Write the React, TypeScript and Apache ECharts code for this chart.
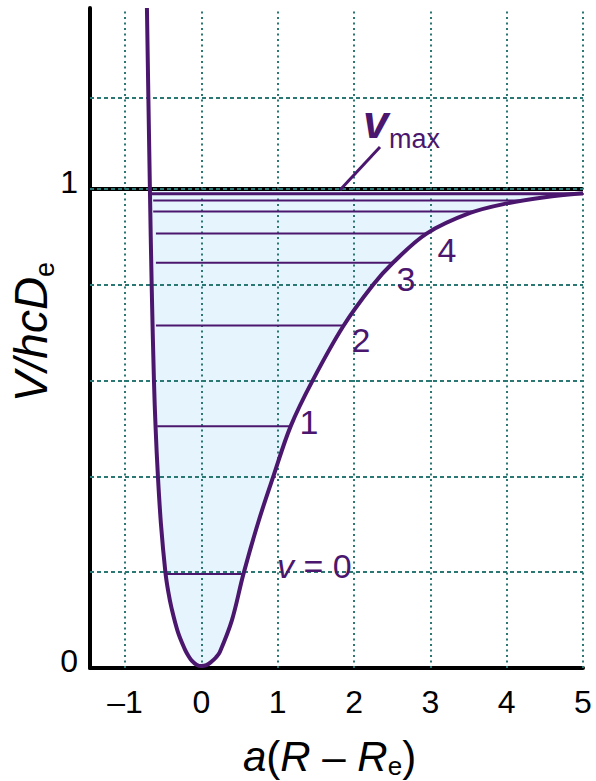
import React, { useEffect, useRef } from 'react';
import * as echarts from 'echarts';

// Potential curve V/hcDe against a(R - Re)
const curveX = [-0.714, -0.695, -0.675, -0.652, -0.622, -0.6, -0.57, -0.53, -0.472, -0.435, -0.39, -0.31, -0.22, -0.17, -0.13, -0.065, 0.0,
  0.065, 0.13, 0.19, 0.24, 0.4, 0.55, 0.75, 0.94, 1.17, 1.46, 1.86, 2.25, 2.51, 2.95, 3.52, 4.0, 4.5, 5.0];
const curveY = [1.378, 1.19, 1.0, 0.8, 0.6, 0.5, 0.4, 0.3, 0.2, 0.16, 0.124, 0.076, 0.04, 0.025, 0.016, 0.007, 0.004,
  0.006, 0.013, 0.022, 0.033, 0.1, 0.196, 0.307, 0.399, 0.505, 0.601, 0.714, 0.8, 0.846, 0.907, 0.95, 0.97, 0.983, 0.991];

// Vibrational levels
const levelEnergy = [0.196, 0.505, 0.715, 0.846, 0.907, 0.953, 0.976, 0.99];
const levelLeft = [-0.456, -0.579, -0.596, -0.596, -0.596, -0.632, -0.632, -0.675];
const levelRight = [0.55, 1.17, 1.86, 2.51, 2.95, 3.58, 4.23, 5.0];
const levelLabels = ['1', '2', '3', '4'];

// Axes
const xTicks = [-1, 0, 1, 2, 3, 4, 5];
const yGridValues = [0.2, 0.4, 0.6, 0.8, 1, 1.19, 1.378];
const yTickLabels = [0, 1];
const X_MIN = -1.46, X_MAX = 5, Y_MIN = 0, Y_MAX = 1.378;
const DISSOCIATION = 1;

const FF = '"Liberation Sans", Arial, sans-serif';
const PURPLE = '#4b176e';
const FILL = '#e6f5fd';
const GRID = '#2a7773';

export default function App() {
  const ref = useRef<HTMLDivElement>(null);
  useEffect(() => {
    document.body.style.margin = '0';
    const chart = echarts.init(ref.current!, null, { renderer: 'svg' });
    const ctx = document.createElement('canvas').getContext('2d')!;
    const tw = (t: string, size: number, italic = false) => {
      ctx.font = `${italic ? 'italic ' : ''}${size}px ${FF}`;
      return ctx.measureText(t).width;
    };
    type Piece = { t: string; size: number; italic?: boolean; dy?: number };
    const row = (pieces: Piece[], x0: number, base: number) => {
      let x = x0;
      return pieces.map((p) => {
        const el = {
          type: 'text', x, y: base + (p.dy || 0) - 0.35 * p.size,
          style: { text: p.t, fontSize: p.size, fontStyle: p.italic ? 'italic' : 'normal', fontFamily: FF, fill: '#000', align: 'left', verticalAlign: 'middle' },
        };
        x += tw(p.t, p.size, p.italic);
        return el;
      });
    };
    const xTitle: Piece[] = [
      { t: 'a', size: 42, italic: true }, { t: '(', size: 42 }, { t: 'R', size: 42, italic: true },
      { t: ' – ', size: 42 }, { t: 'R', size: 42, italic: true }, { t: 'e', size: 26, dy: 4 }, { t: ')', size: 42 },
    ];
    const yTitle: Piece[] = [{ t: 'V/hcD', size: 46, italic: true }, { t: 'e', size: 27, dy: 7 }];
    const yLen = tw('V/hcD', 46, true) + tw('e', 27);

    const curve = curveX.map((x, i) => [x, curveY[i]]);
    const fillPts = curve.filter((p) => p[1] <= DISSOCIATION + 1e-6);

    const labelPos = [[309, 422], [361, 340], [406, 279], [447, 250]];

    const option: any = {
      animation: false,
      grid: { left: 90, right: 13, top: 8, bottom: 113, containLabel: false, outerBoundsMode: 'none' },
      xAxis: {
        type: 'value', min: X_MIN, max: X_MAX,
        axisLine: { onZero: false, lineStyle: { color: '#000', width: 4 } },
        axisTick: { show: false }, splitLine: { show: false },
        axisLabel: {
          showMinLabel: false, fontSize: 32, fontFamily: FF, color: '#000', margin: 18,
          formatter: (v: number) => (xTicks.some((t) => Math.abs(t - v) < 1e-6) ? (v < 0 ? '–' + Math.abs(v) : String(Math.round(v))) : ''),
        },
      },
      yAxis: {
        type: 'value', min: Y_MIN, max: Y_MAX, interval: 0.2,
        axisLine: { onZero: false, lineStyle: { color: '#000', width: 4 } },
        axisTick: { show: false }, splitLine: { show: false },
        axisLabel: {
          showMaxLabel: false, fontSize: 32, fontFamily: FF, color: '#000', margin: 12,
          verticalAlign: 'bottom', lineHeight: 14,
          formatter: (v: number) => { const m = yTickLabels.find((t) => Math.abs(t - v) < 1e-6); return m === undefined ? '' : String(m); },
        },
      },
      series: [
        {
          type: 'custom', z: 1, silent: true, data: [[0, 0]],
          renderItem: (_p: any, api: any) => ({
            type: 'polygon', shape: { points: fillPts.map((p) => api.coord(p)) }, style: { fill: FILL },
          }),
        },
        {
          type: 'line', data: [], z: 2,
          markLine: { z: 2, silent: true, symbol: ['none', 'none'], label: { show: false }, lineStyle: { color: '#000', width: 4, type: 'solid' }, data: [{ yAxis: DISSOCIATION }] },
        },
        {
          type: 'line', data: [], z: 3,
          markLine: {
            z: 3, silent: true, symbol: ['none', 'none'], label: { show: false },
            lineStyle: { color: GRID, width: 2, type: [4, 3] },
            data: [
              ...yGridValues.map((v) => ({ yAxis: v, lineStyle: { color: GRID, width: 2, type: v > 1.3 ? [2, 4] : [4, 3] } })),
              ...xTicks.map((v) => ({ xAxis: v, lineStyle: { color: GRID, width: 2, type: [2, 3.5] } })),
            ],
          },
        },
        ...levelEnergy.map((e, i) => ({
          type: 'line', z: 4, symbol: 'none', silent: true,
          data: [[levelLeft[i], e], [levelRight[i], e]],
          lineStyle: { color: PURPLE, width: i === levelEnergy.length - 1 ? 3 : 2 },
        })),
        {
          type: 'line', z: 5, symbol: 'none', silent: true, smooth: 0.35,
          data: curve, lineStyle: { color: PURPLE, width: 4 },
        },
      ],
      graphic: {
        elements: [
          ...row(xTitle, 243, 771),
          { type: 'group', x: 47, y: 332 + yLen / 2, rotation: Math.PI / 2, children: row(yTitle, 0, 0) },
          { type: 'line', z: 10, shape: { x1: 380, y1: 147, x2: 340, y2: 190 }, style: { stroke: PURPLE, lineWidth: 3 } },
          { type: 'text', z: 10, x: 363, y: 138 - 0.35 * 46, style: { text: 'v', fontSize: 46, fontStyle: 'italic', fontWeight: 'bold', fontFamily: FF, fill: PURPLE, verticalAlign: 'middle' } },
          { type: 'text', z: 10, x: 389, y: 148 - 0.35 * 27, style: { text: 'max', fontSize: 27, fontFamily: FF, fill: PURPLE, verticalAlign: 'middle' } },
          {
            type: 'text', z: 10, x: 277, y: 578 - 0.35 * 34,
            style: { text: '{i|v} = 0', fontSize: 34, fontFamily: FF, fill: PURPLE, verticalAlign: 'middle', rich: { i: { fontStyle: 'italic', fontSize: 34, fontFamily: FF, fill: PURPLE } } },
          },
          ...levelLabels.map((t, i) => ({
            type: 'text', z: 10, x: labelPos[i][0], y: labelPos[i][1],
            style: { text: t, fontSize: 34, fontFamily: FF, fill: PURPLE, align: 'center', verticalAlign: 'middle' },
          })),
        ],
      },
    };
    chart.setOption(option);
    return () => chart.dispose();
  }, []);
  return <div ref={ref} style={{ width: 596, height: 781 }} />;
}
